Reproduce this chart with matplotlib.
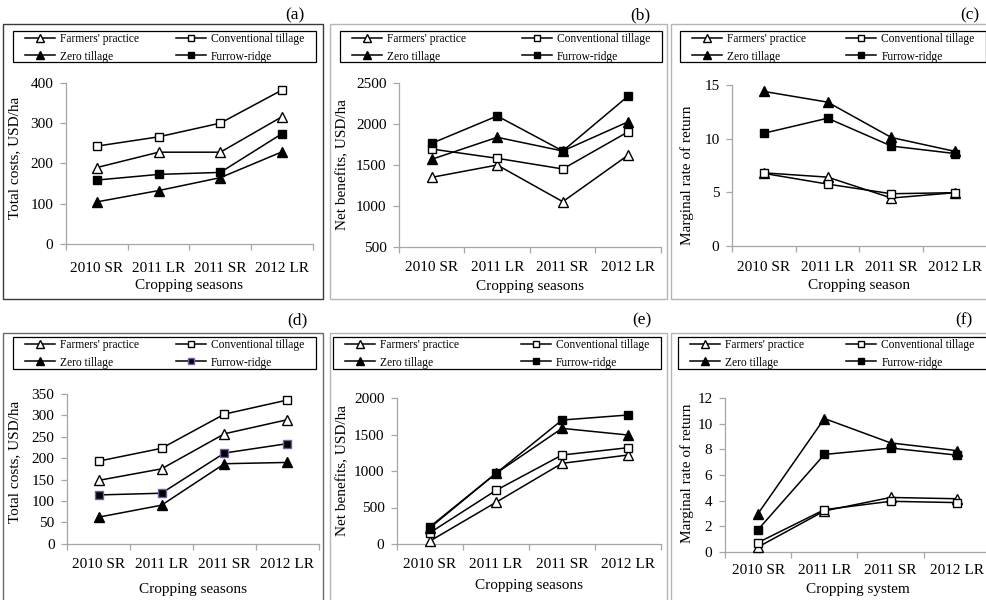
import matplotlib
matplotlib.use("Agg")
import matplotlib.pyplot as plt
from matplotlib.patches import Rectangle

plt.rcParams['font.family'] = ['Liberation Serif', 'DejaVu Serif']

W, H = 987, 600

seasons = ["2010 SR", "2011 LR", "2011 SR", "2012 LR"]
series_names = ["Farmers' practice", "Conventional tillage", "Zero tillage", "Furrow-ridge"]

# (a) Total costs
a_farmers = [190, 228, 228, 316]
a_conventional = [243, 266, 300, 382]
a_zero = [105, 133, 165, 229]
a_furrow = [159, 173, 178, 274]
# (b) Net benefits
b_farmers = [1346, 1496, 1049, 1618]
b_conventional = [1691, 1578, 1448, 1902]
b_zero = [1566, 1834, 1667, 2024]
b_furrow = [1761, 2094, 1667, 2338]
# (c) Marginal rate of return
c_farmers = [6.8, 6.4, 4.45, 4.95]
c_conventional = [6.75, 5.75, 4.85, 4.95]
c_zero = [14.4, 13.4, 10.1, 8.8]
c_furrow = [10.5, 11.9, 9.3, 8.6]
# (d) Total costs
d_farmers = [148, 175, 257, 290]
d_conventional = [193, 223, 303, 336]
d_zero = [62, 90, 187, 190]
d_furrow = [114, 118, 212, 234]
# (e) Net benefits
e_farmers = [41, 571, 1105, 1219]
e_conventional = [155, 735, 1219, 1319]
e_zero = [223, 968, 1584, 1493]
e_furrow = [237, 968, 1698, 1767]
# (f) Marginal rate of return
f_farmers = [0.39, 3.2, 4.25, 4.15]
f_conventional = [0.74, 3.3, 3.95, 3.85]
f_zero = [3.0, 10.4, 8.5, 7.9]
f_furrow = [1.75, 7.6, 8.1, 7.55]

panels = [
    dict(tag="(a)", data=[a_farmers, a_conventional, a_zero, a_furrow], ylim=(0, 400), yticks=[0, 100, 200, 300, 400],
         ylabel="Total costs, USD/ha", xlabel="Cropping seasons",
         box=(3, 323, 24, 299), boxc="#3a3a3a", ax=(66, 313, 82.7, 244.3),
         leg=(13, 316, 31, 62), tagxy=(295, 15), ylab=(15, 158), xtl=265, xlab=285, furrow_edge="black"),
    dict(tag="(b)", data=[b_farmers, b_conventional, b_zero, b_furrow], ylim=(500, 2500), yticks=[500, 1000, 1500, 2000, 2500],
         ylabel="Net benefits, USD/ha", xlabel="Cropping seasons",
         box=(330, 667, 24, 299), boxc="#b5b5b5", ax=(399, 661, 82.7, 246.7),
         leg=(340, 662, 31, 62), tagxy=(640, 15), ylab=(343, 165), xtl=265, xlab=287, furrow_edge="black"),
    dict(tag="(c)", data=[c_farmers, c_conventional, c_zero, c_furrow], ylim=(0, 15), yticks=[0, 5, 10, 15],
         ylabel="Marginal rate of return", xlabel="Cropping season",
         box=(671, 990, 24, 299), boxc="#b5b5b5", ax=(732, 987, 85, 245.7),
         leg=(680, 986.5, 31, 62), tagxy=(970, 15), ylab=(687, 175), xtl=265, xlab=285, furrow_edge="black"),
    dict(tag="(d)", data=[d_farmers, d_conventional, d_zero, d_furrow], ylim=(0, 350), yticks=[0, 50, 100, 150, 200, 250, 300, 350],
         ylabel="Total costs, USD/ha", xlabel="Cropping seasons",
         box=(3, 323, 333, 605), boxc="#6a6a6a", ax=(67, 319, 394, 543.7),
         leg=(13, 316, 337, 369), tagxy=(297, 320), ylab=(15, 462), xtl=562, xlab=590, furrow_edge="#7a5ca6"),
    dict(tag="(e)", data=[e_farmers, e_conventional, e_zero, e_furrow], ylim=(0, 2000), yticks=[0, 500, 1000, 1500, 2000],
         ylabel="Net benefits, USD/ha", xlabel="Cropping seasons",
         box=(330, 667, 333, 605), boxc="#b5b5b5", ax=(397, 661, 398, 544),
         leg=(333, 661, 337, 369), tagxy=(642, 320), ylab=(343, 471), xtl=562, xlab=586, furrow_edge="black"),
    dict(tag="(f)", data=[f_farmers, f_conventional, f_zero, f_furrow], ylim=(0, 12), yticks=[0, 2, 4, 6, 8, 10, 12],
         ylabel="Marginal rate of return", xlabel="Cropping system",
         box=(671, 990, 333, 605), boxc="#b5b5b5", ax=(725, 990, 398, 552),
         leg=(678, 986.5, 337, 369), tagxy=(964, 320), ylab=(687, 473), xtl=569, xlab=590, furrow_edge="black"),
]

fig = plt.figure(figsize=(W / 100, H / 100), dpi=100)


def fx(x):
    return x / W


def fy(y):
    return 1 - y / H


styles = [
    dict(marker="^", mfc="white", mec="black", ms=6.5),
    dict(marker="s", mfc="white", mec="black", ms=6.0),
    dict(marker="^", mfc="black", mec="black", ms=6.5),
    dict(marker="s", mfc="black", mec="black", ms=6.0),
]

grey = "#a6a6a6"

for p in panels:
    bx0, bx1, by0, by1 = p["box"]
    fig.patches.append(Rectangle((fx(bx0), fy(by1)), fx(bx1 - bx0), (by1 - by0) / H,
                                 transform=fig.transFigure, fill=False, edgecolor=p["boxc"], lw=1.0))
    x0, x1, yt, yb = p["ax"]
    ax = fig.add_axes([fx(x0), fy(yb), fx(x1 - x0), (yb - yt) / H])
    ax.patch.set_alpha(0)
    xs = list(range(len(seasons)))
    handles = []
    for i, (vals, st) in enumerate(zip(p["data"], styles)):
        st = dict(st)
        if i == 3:
            st["mec"] = p["furrow_edge"]
        ln, = ax.plot(xs, vals, color="black", lw=1.1, mew=1.0, zorder=3 + i, clip_on=False, **st)
        handles.append(ln)
    ax.set_xlim(-0.5, len(seasons) - 0.5)
    ax.set_ylim(*p["ylim"])
    ax.set_yticks(p["yticks"])
    ax.set_xticks(xs)
    ax.set_xticklabels(seasons)
    ax.set_xticks([i - 0.5 for i in range(len(seasons) + 1)], minor=True)
    for s in ("top", "right"):
        ax.spines[s].set_visible(False)
    for s in ("left", "bottom"):
        ax.spines[s].set_color(grey)
        ax.spines[s].set_linewidth(0.9)
    ax.tick_params(axis="x", which="major", length=0, labelsize=11, pad=(p["xtl"] - yb) - 8)
    ax.tick_params(axis="x", which="minor", length=4, color=grey, width=0.9)
    ax.tick_params(axis="y", which="major", length=4, color=grey, width=0.9, labelsize=11, pad=5)
    ax.set_ylabel(p["ylabel"], fontsize=11)
    ax.yaxis.set_label_coords(fx(p["ylab"][0]), fy(p["ylab"][1]), transform=fig.transFigure)
    ax.yaxis.label.set_va("center")
    fig.text(fx((x0 + x1) / 2), fy(p["xlab"]), p["xlabel"], ha="center", va="center", fontsize=11)
    fig.text(fx(p["tagxy"][0]), fy(p["tagxy"][1]), p["tag"], ha="center", va="center", fontsize=12.5)
    # legend frame
    lx0, lx1, ly0, ly1 = p["leg"]
    fig.patches.append(Rectangle((fx(lx0), fy(ly1)), fx(lx1 - lx0), (ly1 - ly0) / H,
                                 transform=fig.transFigure, fill=False, edgecolor="black", lw=0.9, zorder=10))
    order = [0, 2, 1, 3]
    top = fy(ly0 + 2)
    leg = ax.legend([handles[i] for i in order], [series_names[i] for i in order],
                    loc="upper left", bbox_to_anchor=(fx(lx0 + 12), top - 0.01, fx(lx1 - lx0 - 24), 0.01),
                    bbox_transform=fig.transFigure, mode="expand", ncol=2, frameon=False,
                    borderpad=0, borderaxespad=0, fontsize=8.3, handlelength=2.6, handletextpad=0.45,
                    labelspacing=0.48, markerscale=0.8)

fig.savefig("out.png", dpi=100)
